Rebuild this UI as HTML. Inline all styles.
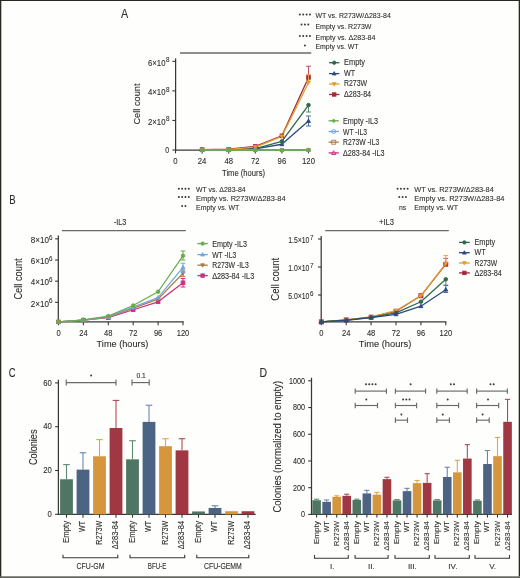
<!DOCTYPE html><html><head><meta charset="utf-8"><style>html,body{margin:0;padding:0;background:#fff;}svg{display:block;will-change:transform;}text{font-family:"Liberation Sans", sans-serif;stroke:#2c2c2c;stroke-width:0.15px;stroke-opacity:0.6;}</style></head><body>
<svg width="520" height="578" viewBox="0 0 520 578">
<rect x="0" y="0" width="520" height="578" fill="#fefefd"/>
<text x="121.00" y="18.00" font-size="12" fill="#2c2c2c" textLength="7.20" lengthAdjust="spacingAndGlyphs">A</text>
<circle cx="299.80" cy="14.40" r="1.0" fill="#3a3a3a"/>
<circle cx="303.20" cy="14.40" r="1.0" fill="#3a3a3a"/>
<circle cx="306.60" cy="14.40" r="1.0" fill="#3a3a3a"/>
<circle cx="310.00" cy="14.40" r="1.0" fill="#3a3a3a"/>
<text x="315.40" y="18.20" font-size="8.0" fill="#2c2c2c" textLength="75.40" lengthAdjust="spacingAndGlyphs">WT vs. R273W/Δ283-84</text>
<circle cx="301.50" cy="24.60" r="1.0" fill="#3a3a3a"/>
<circle cx="304.90" cy="24.60" r="1.0" fill="#3a3a3a"/>
<circle cx="308.30" cy="24.60" r="1.0" fill="#3a3a3a"/>
<text x="315.40" y="28.50" font-size="8.0" fill="#2c2c2c" textLength="56.10" lengthAdjust="spacingAndGlyphs">Empty vs. R273W</text>
<circle cx="299.80" cy="36.00" r="1.0" fill="#3a3a3a"/>
<circle cx="303.20" cy="36.00" r="1.0" fill="#3a3a3a"/>
<circle cx="306.60" cy="36.00" r="1.0" fill="#3a3a3a"/>
<circle cx="310.00" cy="36.00" r="1.0" fill="#3a3a3a"/>
<text x="315.40" y="39.60" font-size="8.0" fill="#2c2c2c" textLength="60.00" lengthAdjust="spacingAndGlyphs">Empty vs. Δ283-84</text>
<circle cx="304.90" cy="45.60" r="1.0" fill="#3a3a3a"/>
<text x="315.40" y="49.40" font-size="8.0" fill="#2c2c2c" textLength="43.20" lengthAdjust="spacingAndGlyphs">Empty vs. WT</text>
<line x1="180.00" y1="53.00" x2="311.20" y2="53.00" stroke="#6a6a6a" stroke-width="1.3"/>
<line x1="175.60" y1="58.40" x2="175.60" y2="150.60" stroke="#383838" stroke-width="1.25"/>
<line x1="175.60" y1="150.00" x2="309.10" y2="150.00" stroke="#383838" stroke-width="1.25"/>
<line x1="172.40" y1="61.32" x2="175.60" y2="61.32" stroke="#383838" stroke-width="1.1"/>
<text x="148.00" y="65.62" font-size="8.2" fill="#2c2c2c" textLength="17.50" lengthAdjust="spacingAndGlyphs">6×10</text>
<text x="166.00" y="62.22" font-size="6.3" fill="#2c2c2c">8</text>
<line x1="172.40" y1="90.88" x2="175.60" y2="90.88" stroke="#383838" stroke-width="1.1"/>
<text x="148.00" y="95.18" font-size="8.2" fill="#2c2c2c" textLength="17.50" lengthAdjust="spacingAndGlyphs">4×10</text>
<text x="166.00" y="91.78" font-size="6.3" fill="#2c2c2c">8</text>
<line x1="172.40" y1="120.44" x2="175.60" y2="120.44" stroke="#383838" stroke-width="1.1"/>
<text x="148.00" y="124.74" font-size="8.2" fill="#2c2c2c" textLength="17.50" lengthAdjust="spacingAndGlyphs">2×10</text>
<text x="166.00" y="121.34" font-size="6.3" fill="#2c2c2c">8</text>
<line x1="172.40" y1="150.00" x2="175.60" y2="150.00" stroke="#383838" stroke-width="1.1"/>
<text x="165.30" y="153.00" font-size="8.4" fill="#2c2c2c" textLength="3.90" lengthAdjust="spacingAndGlyphs">0</text>
<line x1="175.50" y1="150.00" x2="175.50" y2="153.40" stroke="#383838" stroke-width="1.1"/>
<text x="175.50" y="163.70" font-size="8.5" fill="#2c2c2c" text-anchor="middle" textLength="4.30" lengthAdjust="spacingAndGlyphs">0</text>
<line x1="202.10" y1="150.00" x2="202.10" y2="153.40" stroke="#383838" stroke-width="1.1"/>
<text x="202.10" y="163.70" font-size="8.5" fill="#2c2c2c" text-anchor="middle" textLength="8.60" lengthAdjust="spacingAndGlyphs">24</text>
<line x1="228.70" y1="150.00" x2="228.70" y2="153.40" stroke="#383838" stroke-width="1.1"/>
<text x="228.70" y="163.70" font-size="8.5" fill="#2c2c2c" text-anchor="middle" textLength="8.60" lengthAdjust="spacingAndGlyphs">48</text>
<line x1="255.30" y1="150.00" x2="255.30" y2="153.40" stroke="#383838" stroke-width="1.1"/>
<text x="255.30" y="163.70" font-size="8.5" fill="#2c2c2c" text-anchor="middle" textLength="8.60" lengthAdjust="spacingAndGlyphs">72</text>
<line x1="281.90" y1="150.00" x2="281.90" y2="153.40" stroke="#383838" stroke-width="1.1"/>
<text x="281.90" y="163.70" font-size="8.5" fill="#2c2c2c" text-anchor="middle" textLength="8.60" lengthAdjust="spacingAndGlyphs">96</text>
<line x1="308.50" y1="150.00" x2="308.50" y2="153.40" stroke="#383838" stroke-width="1.1"/>
<text x="308.50" y="163.70" font-size="8.5" fill="#2c2c2c" text-anchor="middle" textLength="12.90" lengthAdjust="spacingAndGlyphs">120</text>
<text x="222.00" y="175.70" font-size="8.3" fill="#2c2c2c" textLength="43.00" lengthAdjust="spacingAndGlyphs">Time (hours)</text>
<text transform="translate(140.40,124.60) rotate(-90)" font-size="9.7" fill="#2c2c2c" textLength="41.10" lengthAdjust="spacingAndGlyphs">Cell count</text>
<polyline points="202.10,149.85 228.70,149.70 255.30,148.82 281.90,144.24 308.50,121.03" fill="none" stroke="#2c4a80" stroke-width="1.3" stroke-linejoin="round"/>
<polyline points="202.10,149.85 228.70,149.70 255.30,148.52 281.90,141.28 308.50,105.07" fill="none" stroke="#2e694e" stroke-width="1.3" stroke-linejoin="round"/>
<polyline points="202.10,149.56 228.70,149.26 255.30,146.45 281.90,135.81 308.50,77.43" fill="none" stroke="#a3283d" stroke-width="1.3" stroke-linejoin="round"/>
<polyline points="202.10,149.70 228.70,149.41 255.30,147.04 281.90,136.40 308.50,82.46" fill="none" stroke="#e49c2e" stroke-width="1.3" stroke-linejoin="round"/>
<line x1="308.50" y1="121.03" x2="308.50" y2="126.06" stroke="#4f6ea0" stroke-width="1.0"/>
<line x1="306.00" y1="126.06" x2="311.00" y2="126.06" stroke="#4f6ea0" stroke-width="1.0"/>
<line x1="308.50" y1="121.03" x2="308.50" y2="116.01" stroke="#4f6ea0" stroke-width="1.0"/>
<line x1="306.00" y1="116.01" x2="311.00" y2="116.01" stroke="#4f6ea0" stroke-width="1.0"/>
<polygon points="202.10,147.78 200.12,151.29 204.08,151.29" fill="#2c4a80" stroke="#2c4a80" stroke-width="0.9"/>
<polygon points="228.70,147.63 226.72,151.14 230.68,151.14" fill="#2c4a80" stroke="#2c4a80" stroke-width="0.9"/>
<polygon points="255.30,146.75 253.32,150.26 257.28,150.26" fill="#2c4a80" stroke="#2c4a80" stroke-width="0.9"/>
<polygon points="281.90,142.17 279.92,145.68 283.88,145.68" fill="#2c4a80" stroke="#2c4a80" stroke-width="0.9"/>
<polygon points="308.50,118.96 306.52,122.47 310.48,122.47" fill="#2c4a80" stroke="#2c4a80" stroke-width="0.9"/>
<line x1="308.50" y1="105.07" x2="308.50" y2="112.02" stroke="#5b8a72" stroke-width="1.0"/>
<line x1="306.00" y1="112.02" x2="311.00" y2="112.02" stroke="#5b8a72" stroke-width="1.0"/>
<circle cx="202.10" cy="149.85" r="1.8" fill="#2e694e" stroke="#2e694e" stroke-width="0.9"/>
<circle cx="228.70" cy="149.70" r="1.8" fill="#2e694e" stroke="#2e694e" stroke-width="0.9"/>
<circle cx="255.30" cy="148.52" r="1.8" fill="#2e694e" stroke="#2e694e" stroke-width="0.9"/>
<circle cx="281.90" cy="141.28" r="1.8" fill="#2e694e" stroke="#2e694e" stroke-width="0.9"/>
<circle cx="308.50" cy="105.07" r="1.8" fill="#2e694e" stroke="#2e694e" stroke-width="0.9"/>
<line x1="308.50" y1="77.43" x2="308.50" y2="66.20" stroke="#c04a68" stroke-width="1.0"/>
<line x1="306.00" y1="66.20" x2="311.00" y2="66.20" stroke="#c04a68" stroke-width="1.0"/>
<rect x="200.30" y="147.76" width="3.6" height="3.6" fill="#a3283d" stroke="#a3283d" stroke-width="0.9"/>
<rect x="226.90" y="147.46" width="3.6" height="3.6" fill="#a3283d" stroke="#a3283d" stroke-width="0.9"/>
<rect x="253.50" y="144.65" width="3.6" height="3.6" fill="#a3283d" stroke="#a3283d" stroke-width="0.9"/>
<rect x="280.10" y="134.01" width="3.6" height="3.6" fill="#a3283d" stroke="#a3283d" stroke-width="0.9"/>
<rect x="306.70" y="75.63" width="3.6" height="3.6" fill="#a3283d" stroke="#a3283d" stroke-width="0.9"/>
<line x1="308.50" y1="82.46" x2="308.50" y2="74.33" stroke="#eaa548" stroke-width="1.0"/>
<line x1="306.00" y1="74.33" x2="311.00" y2="74.33" stroke="#eaa548" stroke-width="1.0"/>
<polygon points="202.10,151.77 200.12,148.26 204.08,148.26" fill="#e49c2e" stroke="#e49c2e" stroke-width="0.9"/>
<polygon points="228.70,151.48 226.72,147.97 230.68,147.97" fill="#e49c2e" stroke="#e49c2e" stroke-width="0.9"/>
<polygon points="255.30,149.11 253.32,145.60 257.28,145.60" fill="#e49c2e" stroke="#e49c2e" stroke-width="0.9"/>
<polygon points="281.90,138.47 279.92,134.96 283.88,134.96" fill="#e49c2e" stroke="#e49c2e" stroke-width="0.9"/>
<polygon points="308.50,84.53 306.52,81.02 310.48,81.02" fill="#e49c2e" stroke="#e49c2e" stroke-width="0.9"/>
<polyline points="202.10,150.00 228.70,150.00 255.30,150.00 281.90,150.00 308.50,150.00" fill="none" stroke="#cc2f7e" stroke-width="1.5" stroke-linejoin="round"/>
<polygon points="202.10,148.16 200.34,151.28 203.86,151.28" fill="none" stroke="#cc2f7e" stroke-width="0.9"/>
<polygon points="228.70,148.16 226.94,151.28 230.46,151.28" fill="none" stroke="#cc2f7e" stroke-width="0.9"/>
<polygon points="255.30,148.16 253.54,151.28 257.06,151.28" fill="none" stroke="#cc2f7e" stroke-width="0.9"/>
<polygon points="281.90,148.16 280.14,151.28 283.66,151.28" fill="none" stroke="#cc2f7e" stroke-width="0.9"/>
<polygon points="308.50,148.16 306.74,151.28 310.26,151.28" fill="none" stroke="#cc2f7e" stroke-width="0.9"/>
<polyline points="202.10,150.00 228.70,150.00 255.30,150.00 281.90,150.00 308.50,150.00" fill="none" stroke="#b07a45" stroke-width="1.5" stroke-linejoin="round"/>
<rect x="200.50" y="148.40" width="3.2" height="3.2" fill="none" stroke="#b07a45" stroke-width="0.9"/>
<rect x="227.10" y="148.40" width="3.2" height="3.2" fill="none" stroke="#b07a45" stroke-width="0.9"/>
<rect x="253.70" y="148.40" width="3.2" height="3.2" fill="none" stroke="#b07a45" stroke-width="0.9"/>
<rect x="280.30" y="148.40" width="3.2" height="3.2" fill="none" stroke="#b07a45" stroke-width="0.9"/>
<rect x="306.90" y="148.40" width="3.2" height="3.2" fill="none" stroke="#b07a45" stroke-width="0.9"/>
<polyline points="202.10,150.00 228.70,150.00 255.30,150.00 281.90,150.00 308.50,150.00" fill="none" stroke="#6fa8d8" stroke-width="1.5" stroke-linejoin="round"/>
<circle cx="202.10" cy="150.00" r="1.6" fill="none" stroke="#6fa8d8" stroke-width="0.9"/>
<circle cx="228.70" cy="150.00" r="1.6" fill="none" stroke="#6fa8d8" stroke-width="0.9"/>
<circle cx="255.30" cy="150.00" r="1.6" fill="none" stroke="#6fa8d8" stroke-width="0.9"/>
<circle cx="281.90" cy="150.00" r="1.6" fill="none" stroke="#6fa8d8" stroke-width="0.9"/>
<circle cx="308.50" cy="150.00" r="1.6" fill="none" stroke="#6fa8d8" stroke-width="0.9"/>
<polyline points="202.10,150.00 228.70,150.00 255.30,150.00 281.90,150.00 308.50,150.00" fill="none" stroke="#6aaa4a" stroke-width="1.5" stroke-linejoin="round"/>
<polygon points="202.10,148.08 200.18,150.00 202.10,151.92 204.02,150.00" fill="#6aaa4a" stroke="#6aaa4a" stroke-width="0.9"/>
<polygon points="228.70,148.08 226.78,150.00 228.70,151.92 230.62,150.00" fill="#6aaa4a" stroke="#6aaa4a" stroke-width="0.9"/>
<polygon points="255.30,148.08 253.38,150.00 255.30,151.92 257.22,150.00" fill="#6aaa4a" stroke="#6aaa4a" stroke-width="0.9"/>
<polygon points="281.90,148.08 279.98,150.00 281.90,151.92 283.82,150.00" fill="#6aaa4a" stroke="#6aaa4a" stroke-width="0.9"/>
<polygon points="308.50,148.08 306.58,150.00 308.50,151.92 310.42,150.00" fill="#6aaa4a" stroke="#6aaa4a" stroke-width="0.9"/>
<line x1="329.00" y1="62.70" x2="339.40" y2="62.70" stroke="#2e694e" stroke-width="1.3"/>
<circle cx="334.20" cy="62.70" r="1.7" fill="#2e694e" stroke="#2e694e" stroke-width="0.9"/>
<text x="344.00" y="64.90" font-size="8.2" fill="#2c2c2c" textLength="21.10" lengthAdjust="spacingAndGlyphs">Empty</text>
<line x1="329.00" y1="73.60" x2="339.40" y2="73.60" stroke="#2c4a80" stroke-width="1.3"/>
<polygon points="334.20,71.64 332.33,74.96 336.07,74.96" fill="#2c4a80" stroke="#2c4a80" stroke-width="0.9"/>
<text x="344.00" y="75.80" font-size="8.2" fill="#2c2c2c" textLength="11.10" lengthAdjust="spacingAndGlyphs">WT</text>
<line x1="329.00" y1="84.00" x2="339.40" y2="84.00" stroke="#e49c2e" stroke-width="1.3"/>
<polygon points="334.20,85.95 332.33,82.64 336.07,82.64" fill="#e49c2e" stroke="#e49c2e" stroke-width="0.9"/>
<text x="344.00" y="86.20" font-size="8.2" fill="#2c2c2c" textLength="23.10" lengthAdjust="spacingAndGlyphs">R273W</text>
<line x1="329.00" y1="94.50" x2="339.40" y2="94.50" stroke="#a3283d" stroke-width="1.3"/>
<rect x="332.50" y="92.80" width="3.4" height="3.4" fill="#a3283d" stroke="#a3283d" stroke-width="0.9"/>
<text x="344.00" y="96.70" font-size="8.2" fill="#2c2c2c" textLength="27.10" lengthAdjust="spacingAndGlyphs">Δ283-84</text>
<line x1="328.60" y1="120.80" x2="338.80" y2="120.80" stroke="#6aaa4a" stroke-width="1.3"/>
<polygon points="333.70,119.00 331.90,120.80 333.70,122.60 335.50,120.80" fill="#6aaa4a" stroke="#6aaa4a" stroke-width="0.9"/>
<text x="343.00" y="124.00" font-size="8.2" fill="#2c2c2c" textLength="35.00" lengthAdjust="spacingAndGlyphs">Empty -IL3</text>
<line x1="328.60" y1="131.50" x2="338.80" y2="131.50" stroke="#6fa8d8" stroke-width="1.3"/>
<circle cx="333.70" cy="131.50" r="2.0" fill="none" stroke="#6fa8d8" stroke-width="0.9"/>
<text x="343.00" y="134.70" font-size="8.2" fill="#2c2c2c" textLength="23.90" lengthAdjust="spacingAndGlyphs">WT -IL3</text>
<line x1="328.60" y1="142.20" x2="338.80" y2="142.20" stroke="#b07a45" stroke-width="1.3"/>
<rect x="331.70" y="140.20" width="4.0" height="4.0" fill="none" stroke="#b07a45" stroke-width="0.9"/>
<text x="343.00" y="145.40" font-size="8.2" fill="#2c2c2c" textLength="36.20" lengthAdjust="spacingAndGlyphs">R273W -IL3</text>
<line x1="328.60" y1="152.90" x2="338.80" y2="152.90" stroke="#cc2f7e" stroke-width="1.3"/>
<polygon points="333.70,150.60 331.50,154.50 335.90,154.50" fill="none" stroke="#cc2f7e" stroke-width="0.9"/>
<text x="343.00" y="156.10" font-size="8.2" fill="#2c2c2c" textLength="41.60" lengthAdjust="spacingAndGlyphs">Δ283-84 -IL3</text>
<text x="9.20" y="204.30" font-size="12" fill="#2c2c2c" textLength="6.40" lengthAdjust="spacingAndGlyphs">B</text>
<circle cx="178.85" cy="188.70" r="1.0" fill="#3a3a3a"/>
<circle cx="182.15" cy="188.70" r="1.0" fill="#3a3a3a"/>
<circle cx="185.45" cy="188.70" r="1.0" fill="#3a3a3a"/>
<circle cx="188.75" cy="188.70" r="1.0" fill="#3a3a3a"/>
<text x="196.00" y="192.10" font-size="8.0" fill="#2c2c2c" textLength="49.60" lengthAdjust="spacingAndGlyphs">WT vs. Δ283-84</text>
<circle cx="178.85" cy="197.00" r="1.0" fill="#3a3a3a"/>
<circle cx="182.15" cy="197.00" r="1.0" fill="#3a3a3a"/>
<circle cx="185.45" cy="197.00" r="1.0" fill="#3a3a3a"/>
<circle cx="188.75" cy="197.00" r="1.0" fill="#3a3a3a"/>
<text x="196.00" y="200.50" font-size="8.0" fill="#2c2c2c" textLength="89.60" lengthAdjust="spacingAndGlyphs">Empty vs. R273W/Δ283-84</text>
<circle cx="182.15" cy="206.10" r="1.0" fill="#3a3a3a"/>
<circle cx="185.45" cy="206.10" r="1.0" fill="#3a3a3a"/>
<text x="196.00" y="210.00" font-size="8.0" fill="#2c2c2c" textLength="43.30" lengthAdjust="spacingAndGlyphs">Empty vs. WT</text>
<circle cx="397.58" cy="188.70" r="1.0" fill="#3a3a3a"/>
<circle cx="400.93" cy="188.70" r="1.0" fill="#3a3a3a"/>
<circle cx="404.28" cy="188.70" r="1.0" fill="#3a3a3a"/>
<circle cx="407.63" cy="188.70" r="1.0" fill="#3a3a3a"/>
<text x="414.30" y="192.10" font-size="8.0" fill="#2c2c2c" textLength="79.50" lengthAdjust="spacingAndGlyphs">WT vs. R273W/Δ283-84</text>
<circle cx="399.25" cy="197.00" r="1.0" fill="#3a3a3a"/>
<circle cx="402.60" cy="197.00" r="1.0" fill="#3a3a3a"/>
<circle cx="405.95" cy="197.00" r="1.0" fill="#3a3a3a"/>
<text x="414.30" y="200.50" font-size="8.0" fill="#2c2c2c" textLength="90.20" lengthAdjust="spacingAndGlyphs">Empty vs. R273W/Δ283-84</text>
<text x="399.00" y="210.00" font-size="8.0" fill="#2c2c2c" textLength="7.20" lengthAdjust="spacingAndGlyphs">ns</text>
<text x="414.30" y="210.00" font-size="8.0" fill="#2c2c2c" textLength="43.70" lengthAdjust="spacingAndGlyphs">Empty vs. WT</text>
<text x="113.90" y="225.20" font-size="8.2" fill="#2c2c2c" textLength="12.50" lengthAdjust="spacingAndGlyphs">-IL3</text>
<text x="379.00" y="225.20" font-size="8.2" fill="#2c2c2c" textLength="15.10" lengthAdjust="spacingAndGlyphs">+IL3</text>
<line x1="62.00" y1="230.60" x2="185.80" y2="230.60" stroke="#6a6a6a" stroke-width="1.3"/>
<line x1="325.20" y1="230.60" x2="448.80" y2="230.60" stroke="#6a6a6a" stroke-width="1.3"/>
<line x1="58.30" y1="235.40" x2="58.30" y2="322.40" stroke="#383838" stroke-width="1.25"/>
<line x1="58.30" y1="321.80" x2="183.60" y2="321.80" stroke="#383838" stroke-width="1.25"/>
<line x1="55.10" y1="238.86" x2="58.30" y2="238.86" stroke="#383838" stroke-width="1.1"/>
<text x="30.70" y="243.06" font-size="8.2" fill="#2c2c2c" textLength="18.20" lengthAdjust="spacingAndGlyphs">8×10</text>
<text x="49.10" y="239.66" font-size="6.3" fill="#2c2c2c">6</text>
<line x1="55.10" y1="260.02" x2="58.30" y2="260.02" stroke="#383838" stroke-width="1.1"/>
<text x="30.70" y="264.22" font-size="8.2" fill="#2c2c2c" textLength="18.20" lengthAdjust="spacingAndGlyphs">6×10</text>
<text x="49.10" y="260.82" font-size="6.3" fill="#2c2c2c">6</text>
<line x1="55.10" y1="281.18" x2="58.30" y2="281.18" stroke="#383838" stroke-width="1.1"/>
<text x="30.70" y="285.38" font-size="8.2" fill="#2c2c2c" textLength="18.20" lengthAdjust="spacingAndGlyphs">4×10</text>
<text x="49.10" y="281.98" font-size="6.3" fill="#2c2c2c">6</text>
<line x1="55.10" y1="302.34" x2="58.30" y2="302.34" stroke="#383838" stroke-width="1.1"/>
<text x="30.70" y="306.54" font-size="8.2" fill="#2c2c2c" textLength="18.20" lengthAdjust="spacingAndGlyphs">2×10</text>
<text x="49.10" y="303.14" font-size="6.3" fill="#2c2c2c">6</text>
<line x1="58.50" y1="321.80" x2="58.50" y2="325.20" stroke="#383838" stroke-width="1.1"/>
<text x="58.50" y="335.70" font-size="8.7" fill="#2c2c2c" text-anchor="middle" textLength="4.20" lengthAdjust="spacingAndGlyphs">0</text>
<line x1="83.40" y1="321.80" x2="83.40" y2="325.20" stroke="#383838" stroke-width="1.1"/>
<text x="83.40" y="335.70" font-size="8.7" fill="#2c2c2c" text-anchor="middle" textLength="8.40" lengthAdjust="spacingAndGlyphs">24</text>
<line x1="108.30" y1="321.80" x2="108.30" y2="325.20" stroke="#383838" stroke-width="1.1"/>
<text x="108.30" y="335.70" font-size="8.7" fill="#2c2c2c" text-anchor="middle" textLength="8.40" lengthAdjust="spacingAndGlyphs">48</text>
<line x1="133.20" y1="321.80" x2="133.20" y2="325.20" stroke="#383838" stroke-width="1.1"/>
<text x="133.20" y="335.70" font-size="8.7" fill="#2c2c2c" text-anchor="middle" textLength="8.40" lengthAdjust="spacingAndGlyphs">72</text>
<line x1="158.10" y1="321.80" x2="158.10" y2="325.20" stroke="#383838" stroke-width="1.1"/>
<text x="158.10" y="335.70" font-size="8.7" fill="#2c2c2c" text-anchor="middle" textLength="8.40" lengthAdjust="spacingAndGlyphs">96</text>
<line x1="183.00" y1="321.80" x2="183.00" y2="325.20" stroke="#383838" stroke-width="1.1"/>
<text x="183.00" y="335.70" font-size="8.7" fill="#2c2c2c" text-anchor="middle" textLength="12.60" lengthAdjust="spacingAndGlyphs">120</text>
<text x="96.60" y="346.60" font-size="9.7" fill="#2c2c2c" textLength="51.70" lengthAdjust="spacingAndGlyphs">Time (hours)</text>
<text transform="translate(22.40,299.60) rotate(-90)" font-size="10.0" fill="#2c2c2c" textLength="41.30" lengthAdjust="spacingAndGlyphs">Cell count</text>
<polyline points="58.50,321.91 83.40,320.11 108.30,317.68 133.20,309.75 158.10,301.81 183.00,282.77" fill="none" stroke="#cc2f7e" stroke-width="1.25" stroke-linejoin="round"/>
<line x1="183.00" y1="282.77" x2="183.00" y2="287.00" stroke="#cc2f7e" stroke-width="1.0"/>
<line x1="180.60" y1="287.00" x2="185.40" y2="287.00" stroke="#cc2f7e" stroke-width="1.0"/>
<line x1="183.00" y1="282.77" x2="183.00" y2="278.53" stroke="#cc2f7e" stroke-width="1.0"/>
<line x1="180.60" y1="278.53" x2="185.40" y2="278.53" stroke="#cc2f7e" stroke-width="1.0"/>
<rect x="56.70" y="320.11" width="3.6" height="3.6" fill="#cc2f7e" stroke="#cc2f7e" stroke-width="0.9"/>
<rect x="81.60" y="318.31" width="3.6" height="3.6" fill="#cc2f7e" stroke="#cc2f7e" stroke-width="0.9"/>
<rect x="106.50" y="315.88" width="3.6" height="3.6" fill="#cc2f7e" stroke="#cc2f7e" stroke-width="0.9"/>
<rect x="131.40" y="307.95" width="3.6" height="3.6" fill="#cc2f7e" stroke="#cc2f7e" stroke-width="0.9"/>
<rect x="156.30" y="300.01" width="3.6" height="3.6" fill="#cc2f7e" stroke="#cc2f7e" stroke-width="0.9"/>
<rect x="181.20" y="280.97" width="3.6" height="3.6" fill="#cc2f7e" stroke="#cc2f7e" stroke-width="0.9"/>
<polyline points="58.50,321.91 83.40,320.11 108.30,317.15 133.20,308.16 158.10,299.17 183.00,273.25" fill="none" stroke="#b07a45" stroke-width="1.25" stroke-linejoin="round"/>
<line x1="183.00" y1="273.25" x2="183.00" y2="276.42" stroke="#b07a45" stroke-width="1.0"/>
<line x1="180.60" y1="276.42" x2="185.40" y2="276.42" stroke="#b07a45" stroke-width="1.0"/>
<line x1="183.00" y1="273.25" x2="183.00" y2="270.07" stroke="#b07a45" stroke-width="1.0"/>
<line x1="180.60" y1="270.07" x2="185.40" y2="270.07" stroke="#b07a45" stroke-width="1.0"/>
<polygon points="58.50,323.98 56.52,320.47 60.48,320.47" fill="#b07a45" stroke="#b07a45" stroke-width="0.9"/>
<polygon points="83.40,322.18 81.42,318.67 85.38,318.67" fill="#b07a45" stroke="#b07a45" stroke-width="0.9"/>
<polygon points="108.30,319.22 106.32,315.71 110.28,315.71" fill="#b07a45" stroke="#b07a45" stroke-width="0.9"/>
<polygon points="133.20,310.23 131.22,306.72 135.18,306.72" fill="#b07a45" stroke="#b07a45" stroke-width="0.9"/>
<polygon points="158.10,301.24 156.12,297.73 160.08,297.73" fill="#b07a45" stroke="#b07a45" stroke-width="0.9"/>
<polygon points="183.00,275.31 181.02,271.81 184.98,271.81" fill="#b07a45" stroke="#b07a45" stroke-width="0.9"/>
<polyline points="58.50,321.91 83.40,320.11 108.30,316.94 133.20,307.10 158.10,297.58 183.00,267.43" fill="none" stroke="#6fa8d8" stroke-width="1.25" stroke-linejoin="round"/>
<line x1="183.00" y1="267.43" x2="183.00" y2="272.19" stroke="#6fa8d8" stroke-width="1.0"/>
<line x1="180.60" y1="272.19" x2="185.40" y2="272.19" stroke="#6fa8d8" stroke-width="1.0"/>
<line x1="183.00" y1="267.43" x2="183.00" y2="263.19" stroke="#6fa8d8" stroke-width="1.0"/>
<line x1="180.60" y1="263.19" x2="185.40" y2="263.19" stroke="#6fa8d8" stroke-width="1.0"/>
<polygon points="58.50,319.84 56.52,323.35 60.48,323.35" fill="#6fa8d8" stroke="#6fa8d8" stroke-width="0.9"/>
<polygon points="83.40,318.04 81.42,321.55 85.38,321.55" fill="#6fa8d8" stroke="#6fa8d8" stroke-width="0.9"/>
<polygon points="108.30,314.87 106.32,318.38 110.28,318.38" fill="#6fa8d8" stroke="#6fa8d8" stroke-width="0.9"/>
<polygon points="133.20,305.03 131.22,308.54 135.18,308.54" fill="#6fa8d8" stroke="#6fa8d8" stroke-width="0.9"/>
<polygon points="158.10,295.51 156.12,299.02 160.08,299.02" fill="#6fa8d8" stroke="#6fa8d8" stroke-width="0.9"/>
<polygon points="183.00,265.36 181.02,268.87 184.98,268.87" fill="#6fa8d8" stroke="#6fa8d8" stroke-width="0.9"/>
<polyline points="58.50,321.91 83.40,319.80 108.30,316.09 133.20,305.51 158.10,291.76 183.00,255.79" fill="none" stroke="#6aaa4a" stroke-width="1.25" stroke-linejoin="round"/>
<line x1="183.00" y1="255.79" x2="183.00" y2="260.02" stroke="#6aaa4a" stroke-width="1.0"/>
<line x1="180.60" y1="260.02" x2="185.40" y2="260.02" stroke="#6aaa4a" stroke-width="1.0"/>
<line x1="183.00" y1="255.79" x2="183.00" y2="251.03" stroke="#6aaa4a" stroke-width="1.0"/>
<line x1="180.60" y1="251.03" x2="185.40" y2="251.03" stroke="#6aaa4a" stroke-width="1.0"/>
<circle cx="58.50" cy="321.91" r="1.8" fill="#6aaa4a" stroke="#6aaa4a" stroke-width="0.9"/>
<circle cx="83.40" cy="319.80" r="1.8" fill="#6aaa4a" stroke="#6aaa4a" stroke-width="0.9"/>
<circle cx="108.30" cy="316.09" r="1.8" fill="#6aaa4a" stroke="#6aaa4a" stroke-width="0.9"/>
<circle cx="133.20" cy="305.51" r="1.8" fill="#6aaa4a" stroke="#6aaa4a" stroke-width="0.9"/>
<circle cx="158.10" cy="291.76" r="1.8" fill="#6aaa4a" stroke="#6aaa4a" stroke-width="0.9"/>
<circle cx="183.00" cy="255.79" r="1.8" fill="#6aaa4a" stroke="#6aaa4a" stroke-width="0.9"/>
<line x1="197.40" y1="243.60" x2="207.80" y2="243.60" stroke="#6aaa4a" stroke-width="1.3"/>
<circle cx="202.60" cy="243.60" r="1.7" fill="#6aaa4a" stroke="#6aaa4a" stroke-width="0.9"/>
<text x="212.20" y="246.50" font-size="8.2" fill="#2c2c2c" textLength="34.80" lengthAdjust="spacingAndGlyphs">Empty -IL3</text>
<line x1="197.40" y1="254.60" x2="207.80" y2="254.60" stroke="#6fa8d8" stroke-width="1.3"/>
<polygon points="202.60,252.64 200.73,255.96 204.47,255.96" fill="#6fa8d8" stroke="#6fa8d8" stroke-width="0.9"/>
<text x="212.20" y="257.50" font-size="8.2" fill="#2c2c2c" textLength="24.00" lengthAdjust="spacingAndGlyphs">WT -IL3</text>
<line x1="197.40" y1="265.20" x2="207.80" y2="265.20" stroke="#b07a45" stroke-width="1.3"/>
<polygon points="202.60,267.16 200.73,263.84 204.47,263.84" fill="#b07a45" stroke="#b07a45" stroke-width="0.9"/>
<text x="212.20" y="268.10" font-size="8.2" fill="#2c2c2c" textLength="36.50" lengthAdjust="spacingAndGlyphs">R273W -IL3</text>
<line x1="197.40" y1="275.60" x2="207.80" y2="275.60" stroke="#cc2f7e" stroke-width="1.3"/>
<rect x="200.90" y="273.90" width="3.4" height="3.4" fill="#cc2f7e" stroke="#cc2f7e" stroke-width="0.9"/>
<text x="212.20" y="278.50" font-size="8.2" fill="#2c2c2c" textLength="42.00" lengthAdjust="spacingAndGlyphs">Δ283-84 -IL3</text>
<line x1="321.20" y1="235.90" x2="321.20" y2="322.40" stroke="#383838" stroke-width="1.25"/>
<line x1="321.20" y1="321.80" x2="446.40" y2="321.80" stroke="#383838" stroke-width="1.25"/>
<line x1="318.00" y1="239.00" x2="321.20" y2="239.00" stroke="#383838" stroke-width="1.1"/>
<text x="288.20" y="242.90" font-size="8.2" fill="#2c2c2c" textLength="21.20" lengthAdjust="spacingAndGlyphs">1.5×10</text>
<text x="309.90" y="239.50" font-size="6.3" fill="#2c2c2c">7</text>
<line x1="318.00" y1="267.00" x2="321.20" y2="267.00" stroke="#383838" stroke-width="1.1"/>
<text x="288.20" y="270.90" font-size="8.2" fill="#2c2c2c" textLength="21.20" lengthAdjust="spacingAndGlyphs">1.0×10</text>
<text x="309.90" y="267.50" font-size="6.3" fill="#2c2c2c">7</text>
<line x1="318.00" y1="295.00" x2="321.20" y2="295.00" stroke="#383838" stroke-width="1.1"/>
<text x="288.20" y="298.90" font-size="8.2" fill="#2c2c2c" textLength="21.20" lengthAdjust="spacingAndGlyphs">5.0×10</text>
<text x="309.90" y="295.50" font-size="6.3" fill="#2c2c2c">6</text>
<line x1="321.30" y1="321.80" x2="321.30" y2="325.20" stroke="#383838" stroke-width="1.1"/>
<text x="321.30" y="335.70" font-size="8.7" fill="#2c2c2c" text-anchor="middle" textLength="4.20" lengthAdjust="spacingAndGlyphs">0</text>
<line x1="346.20" y1="321.80" x2="346.20" y2="325.20" stroke="#383838" stroke-width="1.1"/>
<text x="346.20" y="335.70" font-size="8.7" fill="#2c2c2c" text-anchor="middle" textLength="8.40" lengthAdjust="spacingAndGlyphs">24</text>
<line x1="371.10" y1="321.80" x2="371.10" y2="325.20" stroke="#383838" stroke-width="1.1"/>
<text x="371.10" y="335.70" font-size="8.7" fill="#2c2c2c" text-anchor="middle" textLength="8.40" lengthAdjust="spacingAndGlyphs">48</text>
<line x1="396.00" y1="321.80" x2="396.00" y2="325.20" stroke="#383838" stroke-width="1.1"/>
<text x="396.00" y="335.70" font-size="8.7" fill="#2c2c2c" text-anchor="middle" textLength="8.40" lengthAdjust="spacingAndGlyphs">72</text>
<line x1="420.90" y1="321.80" x2="420.90" y2="325.20" stroke="#383838" stroke-width="1.1"/>
<text x="420.90" y="335.70" font-size="8.7" fill="#2c2c2c" text-anchor="middle" textLength="8.40" lengthAdjust="spacingAndGlyphs">96</text>
<line x1="445.80" y1="321.80" x2="445.80" y2="325.20" stroke="#383838" stroke-width="1.1"/>
<text x="445.80" y="335.70" font-size="8.7" fill="#2c2c2c" text-anchor="middle" textLength="12.60" lengthAdjust="spacingAndGlyphs">120</text>
<text x="358.80" y="346.80" font-size="9.7" fill="#2c2c2c" textLength="52.50" lengthAdjust="spacingAndGlyphs">Time (hours)</text>
<text transform="translate(279.00,300.80) rotate(-90)" font-size="10.0" fill="#2c2c2c" textLength="43.00" lengthAdjust="spacingAndGlyphs">Cell count</text>
<polyline points="321.30,321.88 346.20,319.92 371.10,317.12 396.00,311.24 420.90,295.78 445.80,264.20" fill="none" stroke="#a3283d" stroke-width="1.25" stroke-linejoin="round"/>
<line x1="445.80" y1="264.20" x2="445.80" y2="258.38" stroke="#c04a68" stroke-width="1.0"/>
<line x1="443.40" y1="258.38" x2="448.20" y2="258.38" stroke="#c04a68" stroke-width="1.0"/>
<rect x="319.30" y="319.88" width="4.0" height="4.0" fill="#a3283d" stroke="#a3283d" stroke-width="0.9"/>
<rect x="344.20" y="317.92" width="4.0" height="4.0" fill="#a3283d" stroke="#a3283d" stroke-width="0.9"/>
<rect x="369.10" y="315.12" width="4.0" height="4.0" fill="#a3283d" stroke="#a3283d" stroke-width="0.9"/>
<rect x="394.00" y="309.24" width="4.0" height="4.0" fill="#a3283d" stroke="#a3283d" stroke-width="0.9"/>
<rect x="418.90" y="293.78" width="4.0" height="4.0" fill="#a3283d" stroke="#a3283d" stroke-width="0.9"/>
<rect x="443.80" y="262.20" width="4.0" height="4.0" fill="#a3283d" stroke="#a3283d" stroke-width="0.9"/>
<polyline points="321.30,321.88 346.20,319.92 371.10,316.84 396.00,310.68 420.90,295.78 445.80,263.64" fill="none" stroke="#e49c2e" stroke-width="1.25" stroke-linejoin="round"/>
<line x1="445.80" y1="263.64" x2="445.80" y2="255.58" stroke="#eaa548" stroke-width="1.0"/>
<line x1="443.40" y1="255.58" x2="448.20" y2="255.58" stroke="#eaa548" stroke-width="1.0"/>
<polygon points="321.30,323.72 319.54,320.60 323.06,320.60" fill="#e49c2e" stroke="#e49c2e" stroke-width="0.9"/>
<polygon points="346.20,321.76 344.44,318.64 347.96,318.64" fill="#e49c2e" stroke="#e49c2e" stroke-width="0.9"/>
<polygon points="371.10,318.68 369.34,315.56 372.86,315.56" fill="#e49c2e" stroke="#e49c2e" stroke-width="0.9"/>
<polygon points="396.00,312.52 394.24,309.40 397.76,309.40" fill="#e49c2e" stroke="#e49c2e" stroke-width="0.9"/>
<polygon points="420.90,297.62 419.14,294.50 422.66,294.50" fill="#e49c2e" stroke="#e49c2e" stroke-width="0.9"/>
<polygon points="445.80,265.48 444.04,262.36 447.56,262.36" fill="#e49c2e" stroke="#e49c2e" stroke-width="0.9"/>
<polyline points="321.30,321.88 346.20,320.20 371.10,317.40 396.00,312.92 420.90,301.72 445.80,279.32" fill="none" stroke="#2e694e" stroke-width="1.25" stroke-linejoin="round"/>
<line x1="445.80" y1="279.32" x2="445.80" y2="285.20" stroke="#5b8a72" stroke-width="1.0"/>
<line x1="443.40" y1="285.20" x2="448.20" y2="285.20" stroke="#5b8a72" stroke-width="1.0"/>
<circle cx="321.30" cy="321.88" r="1.8" fill="#2e694e" stroke="#2e694e" stroke-width="0.9"/>
<circle cx="346.20" cy="320.20" r="1.8" fill="#2e694e" stroke="#2e694e" stroke-width="0.9"/>
<circle cx="371.10" cy="317.40" r="1.8" fill="#2e694e" stroke="#2e694e" stroke-width="0.9"/>
<circle cx="396.00" cy="312.92" r="1.8" fill="#2e694e" stroke="#2e694e" stroke-width="0.9"/>
<circle cx="420.90" cy="301.72" r="1.8" fill="#2e694e" stroke="#2e694e" stroke-width="0.9"/>
<circle cx="445.80" cy="279.32" r="1.8" fill="#2e694e" stroke="#2e694e" stroke-width="0.9"/>
<polyline points="321.30,321.88 346.20,320.48 371.10,317.68 396.00,314.32 420.90,306.20 445.80,289.68" fill="none" stroke="#2c4a80" stroke-width="1.25" stroke-linejoin="round"/>
<line x1="445.80" y1="289.68" x2="445.80" y2="292.48" stroke="#4f6ea0" stroke-width="1.0"/>
<line x1="443.40" y1="292.48" x2="448.20" y2="292.48" stroke="#4f6ea0" stroke-width="1.0"/>
<line x1="445.80" y1="289.68" x2="445.80" y2="285.37" stroke="#4f6ea0" stroke-width="1.0"/>
<line x1="443.40" y1="285.37" x2="448.20" y2="285.37" stroke="#4f6ea0" stroke-width="1.0"/>
<polygon points="321.30,319.81 319.32,323.32 323.28,323.32" fill="#2c4a80" stroke="#2c4a80" stroke-width="0.9"/>
<polygon points="346.20,318.41 344.22,321.92 348.18,321.92" fill="#2c4a80" stroke="#2c4a80" stroke-width="0.9"/>
<polygon points="371.10,315.61 369.12,319.12 373.08,319.12" fill="#2c4a80" stroke="#2c4a80" stroke-width="0.9"/>
<polygon points="396.00,312.25 394.02,315.76 397.98,315.76" fill="#2c4a80" stroke="#2c4a80" stroke-width="0.9"/>
<polygon points="420.90,304.13 418.92,307.64 422.88,307.64" fill="#2c4a80" stroke="#2c4a80" stroke-width="0.9"/>
<polygon points="445.80,287.61 443.82,291.12 447.78,291.12" fill="#2c4a80" stroke="#2c4a80" stroke-width="0.9"/>
<line x1="459.00" y1="242.40" x2="469.80" y2="242.40" stroke="#2e694e" stroke-width="1.3"/>
<circle cx="464.40" cy="242.40" r="1.7" fill="#2e694e" stroke="#2e694e" stroke-width="0.9"/>
<text x="474.50" y="245.10" font-size="8.2" fill="#2c2c2c" textLength="20.60" lengthAdjust="spacingAndGlyphs">Empty</text>
<line x1="459.00" y1="252.70" x2="469.80" y2="252.70" stroke="#2c4a80" stroke-width="1.3"/>
<polygon points="464.40,250.75 462.53,254.06 466.27,254.06" fill="#2c4a80" stroke="#2c4a80" stroke-width="0.9"/>
<text x="474.50" y="255.40" font-size="8.2" fill="#2c2c2c" textLength="11.00" lengthAdjust="spacingAndGlyphs">WT</text>
<line x1="459.00" y1="263.00" x2="469.80" y2="263.00" stroke="#e49c2e" stroke-width="1.3"/>
<polygon points="464.40,264.95 462.53,261.64 466.27,261.64" fill="#e49c2e" stroke="#e49c2e" stroke-width="0.9"/>
<text x="474.50" y="265.70" font-size="8.2" fill="#2c2c2c" textLength="22.60" lengthAdjust="spacingAndGlyphs">R273W</text>
<line x1="459.00" y1="272.90" x2="469.80" y2="272.90" stroke="#a3283d" stroke-width="1.3"/>
<rect x="462.70" y="271.20" width="3.4" height="3.4" fill="#a3283d" stroke="#a3283d" stroke-width="0.9"/>
<text x="474.50" y="275.60" font-size="8.2" fill="#2c2c2c" textLength="27.30" lengthAdjust="spacingAndGlyphs">Δ283-84</text>
<text x="8.80" y="376.60" font-size="12" fill="#2c2c2c" textLength="6.80" lengthAdjust="spacingAndGlyphs">C</text>
<line x1="58.40" y1="379.70" x2="58.40" y2="515.00" stroke="#383838" stroke-width="1.25"/>
<line x1="58.40" y1="514.40" x2="255.70" y2="514.40" stroke="#383838" stroke-width="1.25"/>
<line x1="55.10" y1="382.90" x2="58.40" y2="382.90" stroke="#383838" stroke-width="1.1"/>
<text x="51.90" y="385.50" font-size="8.8" fill="#2c2c2c" text-anchor="end" textLength="8.60" lengthAdjust="spacingAndGlyphs">60</text>
<line x1="55.10" y1="426.70" x2="58.40" y2="426.70" stroke="#383838" stroke-width="1.1"/>
<text x="51.90" y="429.30" font-size="8.8" fill="#2c2c2c" text-anchor="end" textLength="8.60" lengthAdjust="spacingAndGlyphs">40</text>
<line x1="55.10" y1="470.50" x2="58.40" y2="470.50" stroke="#383838" stroke-width="1.1"/>
<text x="51.90" y="473.10" font-size="8.8" fill="#2c2c2c" text-anchor="end" textLength="8.60" lengthAdjust="spacingAndGlyphs">20</text>
<line x1="55.10" y1="514.30" x2="58.40" y2="514.30" stroke="#383838" stroke-width="1.1"/>
<text x="51.90" y="516.90" font-size="8.8" fill="#2c2c2c" text-anchor="end" textLength="4.30" lengthAdjust="spacingAndGlyphs">0</text>
<text transform="translate(37.30,465.00) rotate(-90)" font-size="10.2" fill="#2c2c2c" textLength="35.50" lengthAdjust="spacingAndGlyphs">Colonies</text>
<line x1="66.50" y1="479.26" x2="66.50" y2="464.59" stroke="#5d8a72" stroke-width="1.1"/>
<line x1="63.20" y1="464.59" x2="69.80" y2="464.59" stroke="#5d8a72" stroke-width="1.1"/>
<rect x="60.10" y="479.26" width="12.8" height="35.14" fill="#4f7662"/>
<line x1="66.50" y1="514.40" x2="66.50" y2="517.70" stroke="#383838" stroke-width="1.1"/>
<text transform="translate(68.50,543.00) rotate(-90)" font-size="8.4" fill="#2c2c2c" textLength="22.20" lengthAdjust="spacingAndGlyphs">Empty</text>
<line x1="83.00" y1="469.62" x2="83.00" y2="452.76" stroke="#6a86b0" stroke-width="1.1"/>
<line x1="79.70" y1="452.76" x2="86.30" y2="452.76" stroke="#6a86b0" stroke-width="1.1"/>
<rect x="76.60" y="469.62" width="12.8" height="44.78" fill="#4d6383"/>
<line x1="83.00" y1="514.40" x2="83.00" y2="517.70" stroke="#383838" stroke-width="1.1"/>
<text transform="translate(85.00,532.00) rotate(-90)" font-size="8.4" fill="#2c2c2c" textLength="11.20" lengthAdjust="spacingAndGlyphs">WT</text>
<line x1="99.50" y1="456.26" x2="99.50" y2="439.62" stroke="#e0a44a" stroke-width="1.1"/>
<line x1="96.20" y1="439.62" x2="102.80" y2="439.62" stroke="#e0a44a" stroke-width="1.1"/>
<rect x="93.10" y="456.26" width="12.8" height="58.13" fill="#d5963d"/>
<line x1="99.50" y1="514.40" x2="99.50" y2="517.70" stroke="#383838" stroke-width="1.1"/>
<text transform="translate(101.50,544.80) rotate(-90)" font-size="8.4" fill="#2c2c2c" textLength="24.00" lengthAdjust="spacingAndGlyphs">R273W</text>
<line x1="116.00" y1="428.01" x2="116.00" y2="400.42" stroke="#b04a58" stroke-width="1.1"/>
<line x1="112.70" y1="400.42" x2="119.30" y2="400.42" stroke="#b04a58" stroke-width="1.1"/>
<rect x="109.60" y="428.01" width="12.8" height="86.39" fill="#a03844"/>
<line x1="116.00" y1="514.40" x2="116.00" y2="517.70" stroke="#383838" stroke-width="1.1"/>
<text transform="translate(118.00,549.20) rotate(-90)" font-size="8.4" fill="#2c2c2c" textLength="28.40" lengthAdjust="spacingAndGlyphs">Δ283-84</text>
<line x1="132.50" y1="459.33" x2="132.50" y2="440.72" stroke="#5d8a72" stroke-width="1.1"/>
<line x1="129.20" y1="440.72" x2="135.80" y2="440.72" stroke="#5d8a72" stroke-width="1.1"/>
<rect x="126.10" y="459.33" width="12.8" height="55.07" fill="#4f7662"/>
<line x1="132.50" y1="514.40" x2="132.50" y2="517.70" stroke="#383838" stroke-width="1.1"/>
<text transform="translate(134.50,543.00) rotate(-90)" font-size="8.4" fill="#2c2c2c" textLength="22.20" lengthAdjust="spacingAndGlyphs">Empty</text>
<line x1="149.00" y1="421.88" x2="149.00" y2="405.24" stroke="#6a86b0" stroke-width="1.1"/>
<line x1="145.70" y1="405.24" x2="152.30" y2="405.24" stroke="#6a86b0" stroke-width="1.1"/>
<rect x="142.60" y="421.88" width="12.8" height="92.52" fill="#4d6383"/>
<line x1="149.00" y1="514.40" x2="149.00" y2="517.70" stroke="#383838" stroke-width="1.1"/>
<text transform="translate(151.00,532.00) rotate(-90)" font-size="8.4" fill="#2c2c2c" textLength="11.20" lengthAdjust="spacingAndGlyphs">WT</text>
<line x1="165.50" y1="446.19" x2="165.50" y2="438.74" stroke="#e0a44a" stroke-width="1.1"/>
<line x1="162.20" y1="438.74" x2="168.80" y2="438.74" stroke="#e0a44a" stroke-width="1.1"/>
<rect x="159.10" y="446.19" width="12.8" height="68.21" fill="#d5963d"/>
<line x1="165.50" y1="514.40" x2="165.50" y2="517.70" stroke="#383838" stroke-width="1.1"/>
<text transform="translate(167.50,544.80) rotate(-90)" font-size="8.4" fill="#2c2c2c" textLength="24.00" lengthAdjust="spacingAndGlyphs">R273W</text>
<line x1="182.00" y1="450.35" x2="182.00" y2="438.74" stroke="#b04a58" stroke-width="1.1"/>
<line x1="178.70" y1="438.74" x2="185.30" y2="438.74" stroke="#b04a58" stroke-width="1.1"/>
<rect x="175.60" y="450.35" width="12.8" height="64.05" fill="#a03844"/>
<line x1="182.00" y1="514.40" x2="182.00" y2="517.70" stroke="#383838" stroke-width="1.1"/>
<text transform="translate(184.00,549.20) rotate(-90)" font-size="8.4" fill="#2c2c2c" textLength="28.40" lengthAdjust="spacingAndGlyphs">Δ283-84</text>
<rect x="192.10" y="511.45" width="12.8" height="2.95" fill="#4f7662"/>
<line x1="198.50" y1="514.40" x2="198.50" y2="517.70" stroke="#383838" stroke-width="1.1"/>
<text transform="translate(200.50,543.00) rotate(-90)" font-size="8.4" fill="#2c2c2c" textLength="22.20" lengthAdjust="spacingAndGlyphs">Empty</text>
<line x1="215.00" y1="507.95" x2="215.00" y2="505.76" stroke="#6a86b0" stroke-width="1.1"/>
<line x1="211.70" y1="505.76" x2="218.30" y2="505.76" stroke="#6a86b0" stroke-width="1.1"/>
<rect x="208.60" y="507.95" width="12.8" height="6.45" fill="#4d6383"/>
<line x1="215.00" y1="514.40" x2="215.00" y2="517.70" stroke="#383838" stroke-width="1.1"/>
<text transform="translate(217.00,532.00) rotate(-90)" font-size="8.4" fill="#2c2c2c" textLength="11.20" lengthAdjust="spacingAndGlyphs">WT</text>
<rect x="225.10" y="511.23" width="12.8" height="3.17" fill="#d5963d"/>
<line x1="231.50" y1="514.40" x2="231.50" y2="517.70" stroke="#383838" stroke-width="1.1"/>
<text transform="translate(233.50,544.80) rotate(-90)" font-size="8.4" fill="#2c2c2c" textLength="24.00" lengthAdjust="spacingAndGlyphs">R273W</text>
<rect x="241.60" y="511.23" width="12.8" height="3.17" fill="#a03844"/>
<line x1="248.00" y1="514.40" x2="248.00" y2="517.70" stroke="#383838" stroke-width="1.1"/>
<text transform="translate(250.00,549.20) rotate(-90)" font-size="8.4" fill="#2c2c2c" textLength="28.40" lengthAdjust="spacingAndGlyphs">Δ283-84</text>
<polyline points="63,554.8 63,557.8 117.8,557.8 117.8,554.8" fill="none" stroke="#383838" stroke-width="1.1"/>
<text x="76.50" y="569.20" font-size="8.8" fill="#2c2c2c" textLength="28.00" lengthAdjust="spacingAndGlyphs">CFU-GM</text>
<polyline points="130,554.8 130,557.8 184.7,557.8 184.7,554.8" fill="none" stroke="#383838" stroke-width="1.1"/>
<text x="147.80" y="569.20" font-size="8.8" fill="#2c2c2c" textLength="18.60" lengthAdjust="spacingAndGlyphs">BFU-E</text>
<polyline points="196.8,554.8 196.8,557.8 248.8,557.8 248.8,554.8" fill="none" stroke="#383838" stroke-width="1.1"/>
<text x="204.00" y="569.20" font-size="8.8" fill="#2c2c2c" textLength="37.80" lengthAdjust="spacingAndGlyphs">CFU-GEMM</text>
<line x1="66.20" y1="382.60" x2="116.00" y2="382.60" stroke="#6a6a6a" stroke-width="1.15"/>
<line x1="66.20" y1="379.60" x2="66.20" y2="385.60" stroke="#6a6a6a" stroke-width="1.15"/>
<line x1="116.00" y1="379.60" x2="116.00" y2="385.60" stroke="#6a6a6a" stroke-width="1.15"/>
<circle cx="91.10" cy="375.60" r="1.0" fill="#3a3a3a"/>
<line x1="132.00" y1="382.60" x2="149.20" y2="382.60" stroke="#6a6a6a" stroke-width="1.15"/>
<line x1="132.00" y1="379.60" x2="132.00" y2="385.60" stroke="#6a6a6a" stroke-width="1.15"/>
<line x1="149.20" y1="379.60" x2="149.20" y2="385.60" stroke="#6a6a6a" stroke-width="1.15"/>
<text x="136.50" y="377.70" font-size="7.8" fill="#2c2c2c" textLength="9.30" lengthAdjust="spacingAndGlyphs">0.1</text>
<text x="259.60" y="376.60" font-size="12" fill="#2c2c2c" textLength="7.60" lengthAdjust="spacingAndGlyphs">D</text>
<line x1="311.50" y1="377.70" x2="311.50" y2="515.00" stroke="#383838" stroke-width="1.25"/>
<line x1="311.50" y1="514.30" x2="512.00" y2="514.30" stroke="#383838" stroke-width="1.25"/>
<line x1="308.20" y1="380.80" x2="311.50" y2="380.80" stroke="#383838" stroke-width="1.1"/>
<text x="305.10" y="383.70" font-size="8.5" fill="#2c2c2c" text-anchor="end" textLength="16.00" lengthAdjust="spacingAndGlyphs">1000</text>
<line x1="308.20" y1="407.52" x2="311.50" y2="407.52" stroke="#383838" stroke-width="1.1"/>
<text x="305.10" y="410.42" font-size="8.5" fill="#2c2c2c" text-anchor="end" textLength="12.00" lengthAdjust="spacingAndGlyphs">800</text>
<line x1="308.20" y1="434.24" x2="311.50" y2="434.24" stroke="#383838" stroke-width="1.1"/>
<text x="305.10" y="437.14" font-size="8.5" fill="#2c2c2c" text-anchor="end" textLength="12.00" lengthAdjust="spacingAndGlyphs">600</text>
<line x1="308.20" y1="460.96" x2="311.50" y2="460.96" stroke="#383838" stroke-width="1.1"/>
<text x="305.10" y="463.86" font-size="8.5" fill="#2c2c2c" text-anchor="end" textLength="12.00" lengthAdjust="spacingAndGlyphs">400</text>
<line x1="308.20" y1="487.68" x2="311.50" y2="487.68" stroke="#383838" stroke-width="1.1"/>
<text x="305.10" y="490.58" font-size="8.5" fill="#2c2c2c" text-anchor="end" textLength="12.00" lengthAdjust="spacingAndGlyphs">200</text>
<line x1="308.20" y1="514.40" x2="311.50" y2="514.40" stroke="#383838" stroke-width="1.1"/>
<text x="305.10" y="517.30" font-size="8.5" fill="#2c2c2c" text-anchor="end" textLength="4.00" lengthAdjust="spacingAndGlyphs">0</text>
<text transform="translate(281.00,512.60) rotate(-90)" font-size="10.0" fill="#2c2c2c" textLength="131.80" lengthAdjust="spacingAndGlyphs">Colonies (normalized to empty)</text>
<line x1="316.60" y1="500.24" x2="316.60" y2="499.17" stroke="#5d8a72" stroke-width="1.1"/>
<line x1="314.00" y1="499.17" x2="319.20" y2="499.17" stroke="#5d8a72" stroke-width="1.1"/>
<rect x="312.30" y="500.24" width="8.6" height="14.06" fill="#4f7662"/>
<line x1="316.60" y1="514.30" x2="316.60" y2="517.50" stroke="#383838" stroke-width="1.1"/>
<text transform="translate(318.60,544.30) rotate(-90)" font-size="7.8" fill="#2c2c2c" textLength="23.20" lengthAdjust="spacingAndGlyphs">Empty</text>
<line x1="326.65" y1="501.84" x2="326.65" y2="499.97" stroke="#6a86b0" stroke-width="1.1"/>
<line x1="324.05" y1="499.97" x2="329.25" y2="499.97" stroke="#6a86b0" stroke-width="1.1"/>
<rect x="322.35" y="501.84" width="8.6" height="12.46" fill="#4d6383"/>
<line x1="326.65" y1="514.30" x2="326.65" y2="517.50" stroke="#383838" stroke-width="1.1"/>
<text transform="translate(328.65,532.30) rotate(-90)" font-size="7.8" fill="#2c2c2c" textLength="11.20" lengthAdjust="spacingAndGlyphs">WT</text>
<line x1="336.70" y1="496.90" x2="336.70" y2="495.83" stroke="#e0a44a" stroke-width="1.1"/>
<line x1="334.10" y1="495.83" x2="339.30" y2="495.83" stroke="#e0a44a" stroke-width="1.1"/>
<rect x="332.40" y="496.90" width="8.6" height="17.40" fill="#d5963d"/>
<line x1="336.70" y1="514.30" x2="336.70" y2="517.50" stroke="#383838" stroke-width="1.1"/>
<text transform="translate(338.70,545.90) rotate(-90)" font-size="7.8" fill="#2c2c2c" textLength="24.80" lengthAdjust="spacingAndGlyphs">R273W</text>
<line x1="346.75" y1="495.83" x2="346.75" y2="494.23" stroke="#b04a58" stroke-width="1.1"/>
<line x1="344.15" y1="494.23" x2="349.35" y2="494.23" stroke="#b04a58" stroke-width="1.1"/>
<rect x="342.45" y="495.83" width="8.6" height="18.47" fill="#a03844"/>
<line x1="346.75" y1="514.30" x2="346.75" y2="517.50" stroke="#383838" stroke-width="1.1"/>
<text transform="translate(348.75,550.70) rotate(-90)" font-size="7.8" fill="#2c2c2c" textLength="29.60" lengthAdjust="spacingAndGlyphs">Δ283-84</text>
<line x1="356.80" y1="499.97" x2="356.80" y2="499.17" stroke="#5d8a72" stroke-width="1.1"/>
<line x1="354.20" y1="499.17" x2="359.40" y2="499.17" stroke="#5d8a72" stroke-width="1.1"/>
<rect x="352.50" y="499.97" width="8.6" height="14.33" fill="#4f7662"/>
<line x1="356.80" y1="514.30" x2="356.80" y2="517.50" stroke="#383838" stroke-width="1.1"/>
<text transform="translate(358.80,544.30) rotate(-90)" font-size="7.8" fill="#2c2c2c" textLength="23.20" lengthAdjust="spacingAndGlyphs">Empty</text>
<line x1="366.85" y1="493.42" x2="366.85" y2="490.35" stroke="#6a86b0" stroke-width="1.1"/>
<line x1="364.25" y1="490.35" x2="369.45" y2="490.35" stroke="#6a86b0" stroke-width="1.1"/>
<rect x="362.55" y="493.42" width="8.6" height="20.88" fill="#4d6383"/>
<line x1="366.85" y1="514.30" x2="366.85" y2="517.50" stroke="#383838" stroke-width="1.1"/>
<text transform="translate(368.85,532.30) rotate(-90)" font-size="7.8" fill="#2c2c2c" textLength="11.20" lengthAdjust="spacingAndGlyphs">WT</text>
<line x1="376.90" y1="494.63" x2="376.90" y2="492.36" stroke="#e0a44a" stroke-width="1.1"/>
<line x1="374.30" y1="492.36" x2="379.50" y2="492.36" stroke="#e0a44a" stroke-width="1.1"/>
<rect x="372.60" y="494.63" width="8.6" height="19.67" fill="#d5963d"/>
<line x1="376.90" y1="514.30" x2="376.90" y2="517.50" stroke="#383838" stroke-width="1.1"/>
<text transform="translate(378.90,545.90) rotate(-90)" font-size="7.8" fill="#2c2c2c" textLength="24.80" lengthAdjust="spacingAndGlyphs">R273W</text>
<line x1="386.95" y1="479.13" x2="386.95" y2="477.26" stroke="#b04a58" stroke-width="1.1"/>
<line x1="384.35" y1="477.26" x2="389.55" y2="477.26" stroke="#b04a58" stroke-width="1.1"/>
<rect x="382.65" y="479.13" width="8.6" height="35.17" fill="#a03844"/>
<line x1="386.95" y1="514.30" x2="386.95" y2="517.50" stroke="#383838" stroke-width="1.1"/>
<text transform="translate(388.95,550.70) rotate(-90)" font-size="7.8" fill="#2c2c2c" textLength="29.60" lengthAdjust="spacingAndGlyphs">Δ283-84</text>
<line x1="397.00" y1="500.37" x2="397.00" y2="499.57" stroke="#5d8a72" stroke-width="1.1"/>
<line x1="394.40" y1="499.57" x2="399.60" y2="499.57" stroke="#5d8a72" stroke-width="1.1"/>
<rect x="392.70" y="500.37" width="8.6" height="13.93" fill="#4f7662"/>
<line x1="397.00" y1="514.30" x2="397.00" y2="517.50" stroke="#383838" stroke-width="1.1"/>
<text transform="translate(399.00,544.30) rotate(-90)" font-size="7.8" fill="#2c2c2c" textLength="23.20" lengthAdjust="spacingAndGlyphs">Empty</text>
<line x1="407.05" y1="491.15" x2="407.05" y2="488.35" stroke="#6a86b0" stroke-width="1.1"/>
<line x1="404.45" y1="488.35" x2="409.65" y2="488.35" stroke="#6a86b0" stroke-width="1.1"/>
<rect x="402.75" y="491.15" width="8.6" height="23.15" fill="#4d6383"/>
<line x1="407.05" y1="514.30" x2="407.05" y2="517.50" stroke="#383838" stroke-width="1.1"/>
<text transform="translate(409.05,532.30) rotate(-90)" font-size="7.8" fill="#2c2c2c" textLength="11.20" lengthAdjust="spacingAndGlyphs">WT</text>
<line x1="417.10" y1="483.14" x2="417.10" y2="480.47" stroke="#e0a44a" stroke-width="1.1"/>
<line x1="414.50" y1="480.47" x2="419.70" y2="480.47" stroke="#e0a44a" stroke-width="1.1"/>
<rect x="412.80" y="483.14" width="8.6" height="31.16" fill="#d5963d"/>
<line x1="417.10" y1="514.30" x2="417.10" y2="517.50" stroke="#383838" stroke-width="1.1"/>
<text transform="translate(419.10,545.90) rotate(-90)" font-size="7.8" fill="#2c2c2c" textLength="24.80" lengthAdjust="spacingAndGlyphs">R273W</text>
<line x1="427.15" y1="482.87" x2="427.15" y2="473.65" stroke="#b04a58" stroke-width="1.1"/>
<line x1="424.55" y1="473.65" x2="429.75" y2="473.65" stroke="#b04a58" stroke-width="1.1"/>
<rect x="422.85" y="482.87" width="8.6" height="31.43" fill="#a03844"/>
<line x1="427.15" y1="514.30" x2="427.15" y2="517.50" stroke="#383838" stroke-width="1.1"/>
<text transform="translate(429.15,550.70) rotate(-90)" font-size="7.8" fill="#2c2c2c" textLength="29.60" lengthAdjust="spacingAndGlyphs">Δ283-84</text>
<line x1="437.20" y1="500.37" x2="437.20" y2="499.57" stroke="#5d8a72" stroke-width="1.1"/>
<line x1="434.60" y1="499.57" x2="439.80" y2="499.57" stroke="#5d8a72" stroke-width="1.1"/>
<rect x="432.90" y="500.37" width="8.6" height="13.93" fill="#4f7662"/>
<line x1="437.20" y1="514.30" x2="437.20" y2="517.50" stroke="#383838" stroke-width="1.1"/>
<text transform="translate(439.20,544.30) rotate(-90)" font-size="7.8" fill="#2c2c2c" textLength="23.20" lengthAdjust="spacingAndGlyphs">Empty</text>
<line x1="447.25" y1="476.99" x2="447.25" y2="467.24" stroke="#6a86b0" stroke-width="1.1"/>
<line x1="444.65" y1="467.24" x2="449.85" y2="467.24" stroke="#6a86b0" stroke-width="1.1"/>
<rect x="442.95" y="476.99" width="8.6" height="37.31" fill="#4d6383"/>
<line x1="447.25" y1="514.30" x2="447.25" y2="517.50" stroke="#383838" stroke-width="1.1"/>
<text transform="translate(449.25,532.30) rotate(-90)" font-size="7.8" fill="#2c2c2c" textLength="11.20" lengthAdjust="spacingAndGlyphs">WT</text>
<line x1="457.30" y1="472.32" x2="457.30" y2="460.29" stroke="#e0a44a" stroke-width="1.1"/>
<line x1="454.70" y1="460.29" x2="459.90" y2="460.29" stroke="#e0a44a" stroke-width="1.1"/>
<rect x="453.00" y="472.32" width="8.6" height="41.98" fill="#d5963d"/>
<line x1="457.30" y1="514.30" x2="457.30" y2="517.50" stroke="#383838" stroke-width="1.1"/>
<text transform="translate(459.30,545.90) rotate(-90)" font-size="7.8" fill="#2c2c2c" textLength="24.80" lengthAdjust="spacingAndGlyphs">R273W</text>
<line x1="467.35" y1="458.56" x2="467.35" y2="444.66" stroke="#b04a58" stroke-width="1.1"/>
<line x1="464.75" y1="444.66" x2="469.95" y2="444.66" stroke="#b04a58" stroke-width="1.1"/>
<rect x="463.05" y="458.56" width="8.6" height="55.74" fill="#a03844"/>
<line x1="467.35" y1="514.30" x2="467.35" y2="517.50" stroke="#383838" stroke-width="1.1"/>
<text transform="translate(469.35,550.70) rotate(-90)" font-size="7.8" fill="#2c2c2c" textLength="29.60" lengthAdjust="spacingAndGlyphs">Δ283-84</text>
<line x1="477.40" y1="500.77" x2="477.40" y2="499.97" stroke="#5d8a72" stroke-width="1.1"/>
<line x1="474.80" y1="499.97" x2="480.00" y2="499.97" stroke="#5d8a72" stroke-width="1.1"/>
<rect x="473.10" y="500.77" width="8.6" height="13.53" fill="#4f7662"/>
<line x1="477.40" y1="514.30" x2="477.40" y2="517.50" stroke="#383838" stroke-width="1.1"/>
<text transform="translate(479.40,544.30) rotate(-90)" font-size="7.8" fill="#2c2c2c" textLength="23.20" lengthAdjust="spacingAndGlyphs">Empty</text>
<line x1="487.45" y1="464.03" x2="487.45" y2="450.54" stroke="#6a86b0" stroke-width="1.1"/>
<line x1="484.85" y1="450.54" x2="490.05" y2="450.54" stroke="#6a86b0" stroke-width="1.1"/>
<rect x="483.15" y="464.03" width="8.6" height="50.27" fill="#4d6383"/>
<line x1="487.45" y1="514.30" x2="487.45" y2="517.50" stroke="#383838" stroke-width="1.1"/>
<text transform="translate(489.45,532.30) rotate(-90)" font-size="7.8" fill="#2c2c2c" textLength="11.20" lengthAdjust="spacingAndGlyphs">WT</text>
<line x1="497.50" y1="456.15" x2="497.50" y2="437.45" stroke="#e0a44a" stroke-width="1.1"/>
<line x1="494.90" y1="437.45" x2="500.10" y2="437.45" stroke="#e0a44a" stroke-width="1.1"/>
<rect x="493.20" y="456.15" width="8.6" height="58.15" fill="#d5963d"/>
<line x1="497.50" y1="514.30" x2="497.50" y2="517.50" stroke="#383838" stroke-width="1.1"/>
<text transform="translate(499.50,545.90) rotate(-90)" font-size="7.8" fill="#2c2c2c" textLength="24.80" lengthAdjust="spacingAndGlyphs">R273W</text>
<line x1="507.55" y1="421.82" x2="507.55" y2="399.37" stroke="#b04a58" stroke-width="1.1"/>
<line x1="504.95" y1="399.37" x2="510.15" y2="399.37" stroke="#b04a58" stroke-width="1.1"/>
<rect x="503.25" y="421.82" width="8.6" height="92.48" fill="#a03844"/>
<line x1="507.55" y1="514.30" x2="507.55" y2="517.50" stroke="#383838" stroke-width="1.1"/>
<text transform="translate(509.55,550.70) rotate(-90)" font-size="7.8" fill="#2c2c2c" textLength="29.60" lengthAdjust="spacingAndGlyphs">Δ283-84</text>
<polyline points="314.5,555 314.5,558.2 348.3,558.2 348.3,555" fill="none" stroke="#383838" stroke-width="1.1"/>
<polyline points="355.1,555 355.1,558.2 388.1,558.2 388.1,555" fill="none" stroke="#383838" stroke-width="1.1"/>
<polyline points="395,555 395,558.2 429.3,558.2 429.3,555" fill="none" stroke="#383838" stroke-width="1.1"/>
<polyline points="435,555 435,558.2 469.3,558.2 469.3,555" fill="none" stroke="#383838" stroke-width="1.1"/>
<polyline points="475,555 475,558.2 509.5,558.2 509.5,555" fill="none" stroke="#383838" stroke-width="1.1"/>
<text x="332.30" y="569.30" font-size="8.0" fill="#2c2c2c" text-anchor="middle">I.</text>
<text x="371.40" y="569.30" font-size="8.0" fill="#2c2c2c" text-anchor="middle">II.</text>
<text x="412.35" y="569.30" font-size="8.0" fill="#2c2c2c" text-anchor="middle">III.</text>
<text x="452.85" y="569.30" font-size="8.0" fill="#2c2c2c" text-anchor="middle">IV.</text>
<text x="492.55" y="569.30" font-size="8.0" fill="#2c2c2c" text-anchor="middle">V.</text>
<line x1="355.20" y1="391.10" x2="386.40" y2="391.10" stroke="#6a6a6a" stroke-width="1.15"/>
<line x1="355.20" y1="388.40" x2="355.20" y2="393.80" stroke="#6a6a6a" stroke-width="1.15"/>
<line x1="386.40" y1="388.40" x2="386.40" y2="393.80" stroke="#6a6a6a" stroke-width="1.15"/>
<circle cx="366.00" cy="384.20" r="1.0" fill="#3a3a3a"/>
<circle cx="369.20" cy="384.20" r="1.0" fill="#3a3a3a"/>
<circle cx="372.40" cy="384.20" r="1.0" fill="#3a3a3a"/>
<circle cx="375.60" cy="384.20" r="1.0" fill="#3a3a3a"/>
<line x1="355.20" y1="405.50" x2="377.50" y2="405.50" stroke="#6a6a6a" stroke-width="1.15"/>
<line x1="355.20" y1="402.80" x2="355.20" y2="408.20" stroke="#6a6a6a" stroke-width="1.15"/>
<line x1="377.50" y1="402.80" x2="377.50" y2="408.20" stroke="#6a6a6a" stroke-width="1.15"/>
<circle cx="366.30" cy="399.40" r="1.0" fill="#3a3a3a"/>
<line x1="395.40" y1="391.10" x2="425.60" y2="391.10" stroke="#6a6a6a" stroke-width="1.15"/>
<line x1="395.40" y1="388.40" x2="395.40" y2="393.80" stroke="#6a6a6a" stroke-width="1.15"/>
<line x1="425.60" y1="388.40" x2="425.60" y2="393.80" stroke="#6a6a6a" stroke-width="1.15"/>
<circle cx="410.60" cy="384.20" r="1.0" fill="#3a3a3a"/>
<line x1="395.40" y1="405.50" x2="416.60" y2="405.50" stroke="#6a6a6a" stroke-width="1.15"/>
<line x1="395.40" y1="402.80" x2="395.40" y2="408.20" stroke="#6a6a6a" stroke-width="1.15"/>
<line x1="416.60" y1="402.80" x2="416.60" y2="408.20" stroke="#6a6a6a" stroke-width="1.15"/>
<circle cx="403.10" cy="399.40" r="1.0" fill="#3a3a3a"/>
<circle cx="406.30" cy="399.40" r="1.0" fill="#3a3a3a"/>
<circle cx="409.50" cy="399.40" r="1.0" fill="#3a3a3a"/>
<line x1="395.40" y1="420.20" x2="407.50" y2="420.20" stroke="#6a6a6a" stroke-width="1.15"/>
<line x1="395.40" y1="417.50" x2="395.40" y2="422.90" stroke="#6a6a6a" stroke-width="1.15"/>
<line x1="407.50" y1="417.50" x2="407.50" y2="422.90" stroke="#6a6a6a" stroke-width="1.15"/>
<circle cx="401.40" cy="414.60" r="1.0" fill="#3a3a3a"/>
<line x1="436.80" y1="391.10" x2="467.20" y2="391.10" stroke="#6a6a6a" stroke-width="1.15"/>
<line x1="436.80" y1="388.40" x2="436.80" y2="393.80" stroke="#6a6a6a" stroke-width="1.15"/>
<line x1="467.20" y1="388.40" x2="467.20" y2="393.80" stroke="#6a6a6a" stroke-width="1.15"/>
<circle cx="450.80" cy="384.20" r="1.0" fill="#3a3a3a"/>
<circle cx="454.00" cy="384.20" r="1.0" fill="#3a3a3a"/>
<line x1="436.80" y1="405.50" x2="458.60" y2="405.50" stroke="#6a6a6a" stroke-width="1.15"/>
<line x1="436.80" y1="402.80" x2="436.80" y2="408.20" stroke="#6a6a6a" stroke-width="1.15"/>
<line x1="458.60" y1="402.80" x2="458.60" y2="408.20" stroke="#6a6a6a" stroke-width="1.15"/>
<circle cx="447.70" cy="399.40" r="1.0" fill="#3a3a3a"/>
<line x1="436.80" y1="420.20" x2="449.40" y2="420.20" stroke="#6a6a6a" stroke-width="1.15"/>
<line x1="436.80" y1="417.50" x2="436.80" y2="422.90" stroke="#6a6a6a" stroke-width="1.15"/>
<line x1="449.40" y1="417.50" x2="449.40" y2="422.90" stroke="#6a6a6a" stroke-width="1.15"/>
<circle cx="442.80" cy="414.60" r="1.0" fill="#3a3a3a"/>
<line x1="476.60" y1="391.10" x2="507.40" y2="391.10" stroke="#6a6a6a" stroke-width="1.15"/>
<line x1="476.60" y1="388.40" x2="476.60" y2="393.80" stroke="#6a6a6a" stroke-width="1.15"/>
<line x1="507.40" y1="388.40" x2="507.40" y2="393.80" stroke="#6a6a6a" stroke-width="1.15"/>
<circle cx="490.50" cy="384.20" r="1.0" fill="#3a3a3a"/>
<circle cx="493.70" cy="384.20" r="1.0" fill="#3a3a3a"/>
<line x1="476.60" y1="405.50" x2="498.70" y2="405.50" stroke="#6a6a6a" stroke-width="1.15"/>
<line x1="476.60" y1="402.80" x2="476.60" y2="408.20" stroke="#6a6a6a" stroke-width="1.15"/>
<line x1="498.70" y1="402.80" x2="498.70" y2="408.20" stroke="#6a6a6a" stroke-width="1.15"/>
<circle cx="488.00" cy="399.40" r="1.0" fill="#3a3a3a"/>
<line x1="476.60" y1="420.20" x2="489.20" y2="420.20" stroke="#6a6a6a" stroke-width="1.15"/>
<line x1="476.60" y1="417.50" x2="476.60" y2="422.90" stroke="#6a6a6a" stroke-width="1.15"/>
<line x1="489.20" y1="417.50" x2="489.20" y2="422.90" stroke="#6a6a6a" stroke-width="1.15"/>
<circle cx="482.60" cy="414.60" r="1.0" fill="#3a3a3a"/>
<rect x="0" y="0" width="520" height="1" fill="#27281f"/>
<rect x="0" y="0" width="1.3" height="577" fill="#27281f"/>
<rect x="518.7" y="0" width="1.3" height="576.5" fill="#27281f"/>
<rect x="0" y="576.3" width="520" height="1.7" fill="#63635d"/>
</svg></body></html>
